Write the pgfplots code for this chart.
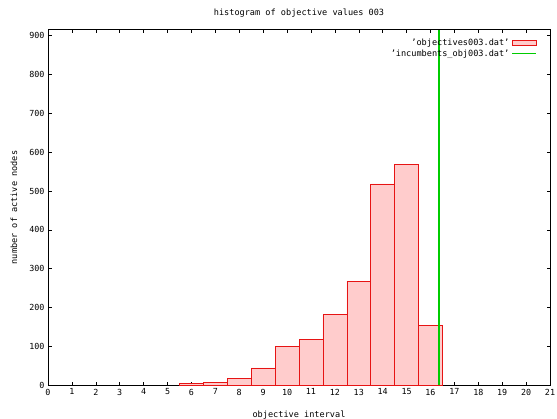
\documentclass[border=0pt]{standalone}
\usepackage{fontspec}
\setmainfont{DejaVu Sans Mono}
\usepackage{pgfplots}
\pgfplotsset{compat=1.18}
\definecolor{barfill}{RGB}{255,204,204}
\definecolor{barline}{RGB}{230,20,20}
\definecolor{gnugreen}{rgb}{0,0.8,0}

\pgfplotsset{
  gnubox/.style={
    at={(48bp,32.7bp)}, anchor=south west,
    scale only axis, width=502bp, height=355.6bp,
    xmin=0, xmax=21, ymin=0, ymax=915,
  },
}

\begin{document}
\begin{tikzpicture}[x=1bp,y=1bp]
  \path[use as bounding box] (0,0) rectangle (557,418);
  % histogram
  \begin{axis}[
    gnubox,
    xtick={0,...,21}, ytick={0,100,...,900},
    tick align=inside, major tick length=3.5bp,
    tick style={black, line width=0.5pt},
    axis line style={line width=0.6pt},
    font=\fontsize{8.4}{10}\selectfont,
    /pgf/number format/assume math mode=true,
    clip=false,
  ]
    \addplot[ybar, bar width=1, fill=barfill, draw=barline, line width=0.6pt]
      coordinates {
      (6,5) (7,8) (8,17) (9,45) (10,100) (11,118) (12,182)
      (13,268) (14,518) (15,568) (16,154)
    };
    \node[font=\fontsize{8.6}{10}\selectfont] at ([yshift=16.7bp]rel axis cs:0.5,1) {histogram of objective values 003};
    \node[font=\fontsize{8.6}{10}\selectfont] at ([yshift=-29.7bp]rel axis cs:0.5,0) {objective interval};
    \node[font=\fontsize{8.6}{10}\selectfont, rotate=90] at ([xshift=-34bp]rel axis cs:0,0.5) {number of active nodes};
  \end{axis}
  % incumbent line and legend on top
  \begin{axis}[
    gnubox, hide axis,
    legend style={at={(0.98,0.985)}, anchor=north east, draw=none, fill=none,
      row sep=-1.5pt, font=\fontsize{8.6}{10}\selectfont},
    legend cell align=right,
    legend plot pos=right,
    reverse legend,
  ]
    \addplot[gnugreen, line width=1.4pt, sharp plot,
      legend image code/.code={\draw[gnugreen, line width=1.4pt] (0bp,0bp) -- (24bp,0bp);}]
      coordinates {(16.36,0) (16.36,915)};
    \addlegendimage{area legend, fill=barfill, draw=barline, line width=0.6pt,
      legend image code/.code={\draw[fill=barfill, draw=barline, line width=0.6pt] (0bp,-2.5bp) rectangle (24bp,2.5bp);}}
    \legend{'incumbents\_obj003.dat','objectives003.dat'}
  \end{axis}
\end{tikzpicture}
\end{document}
